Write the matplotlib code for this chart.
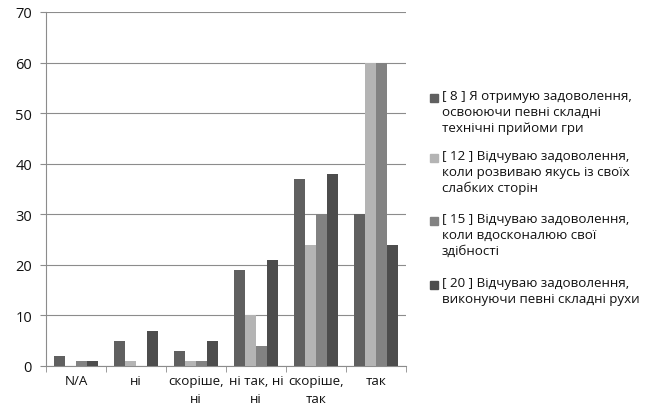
import numpy as np
import matplotlib.pyplot as plt
from matplotlib.patches import Rectangle

plt.rcParams['font.family'] = ['Open Sans', 'DejaVu Sans']

# answer categories and counts per statement
categories = ['N/A', 'ні', 'скоріше,\nні', 'ні так, ні\nні', 'скоріше,\nтак', 'так']
s8 = [2, 5, 3, 19, 37, 30]
s12 = [0, 1, 1, 10, 24, 60]
s15 = [1, 0, 1, 4, 30, 60]
s20 = [1, 7, 5, 21, 38, 24]

labels = ['[ 8 ] Я отримую задоволення,\nосвоюючи певні складні\nтехнічні прийоми гри',
          '[ 12 ] Відчуваю задоволення,\nколи розвиваю якусь із своїх\nслабких сторін',
          '[ 15 ] Відчуваю задоволення,\nколи вдосконалюю свої\nздібності',
          '[ 20 ] Відчуваю задоволення,\nвиконуючи певні складні рухи']
colors = ['#606060', '#b4b4b4', '#828282', '#4d4d4d']

W, H = 648, 410
fig = plt.figure(figsize=(W / 100, H / 100), dpi=100)
ax = fig.add_axes([46 / W, 43 / H, 360 / W, 354 / H])

x = np.arange(len(categories))
w = 0.18
for i, (vals, c) in enumerate(zip([s8, s12, s15, s20], colors)):
    ax.bar(x + (i - 1.5) * w, vals, w, color=c, zorder=3)

ax.set_xlim(-0.5, len(categories) - 0.5)
ax.set_ylim(0, 70)
ax.set_yticks(range(0, 71, 10))
ax.yaxis.grid(True, color='#8c8c8c', linewidth=0.8, zorder=0)

ax.set_xticks(x)
ax.set_xticklabels(categories, fontsize=9.6, linespacing=1.45, color='#111111')
ax.set_xticks(np.arange(-0.5, len(categories)), minor=True)
ax.tick_params(axis='x', which='major', length=0, pad=6)
ax.tick_params(axis='x', which='minor', length=4, color='#8c8c8c')
ax.tick_params(axis='y', length=4, color='#8c8c8c', labelsize=10.5, pad=6,
               labelcolor='#111111')

for s in ['top', 'right']:
    ax.spines[s].set_visible(False)
for s in ['left', 'bottom']:
    ax.spines[s].set_color('#8c8c8c')

# legend drawn by hand so the swatch sits on the first line of each label
tops = [99, 159, 222, 286]
for lab, c, ty in zip(labels, colors, tops):
    fig.patches.append(Rectangle((430 / W, 1 - (ty + 4) / H), 8 / W, 8 / H,
                                 transform=fig.transFigure, color=c))
    fig.text(442 / W, 1 - (ty - 9) / H, lab, fontsize=9.6, va='top', ha='left',
             linespacing=1.3, color='#111111')

fig.savefig('out.png', dpi=100)
